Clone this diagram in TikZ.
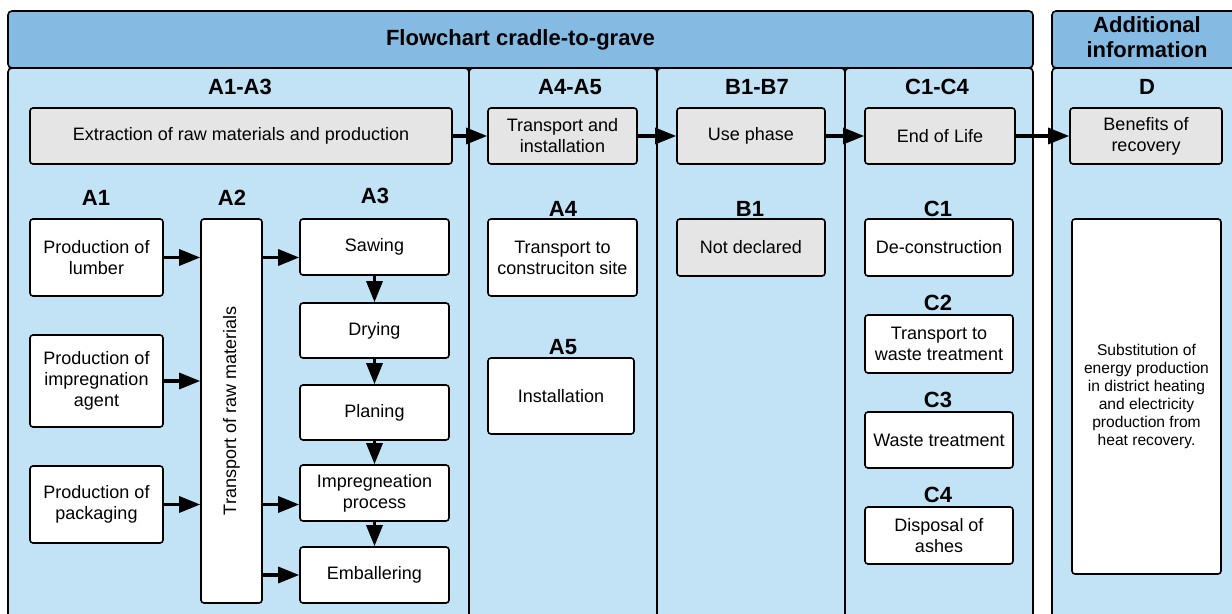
\documentclass[tikz,border=0pt]{standalone}
\usepackage{fontspec}
\setmainfont{Liberation Sans}
\usetikzlibrary{arrows.meta,positioning}

\definecolor{headblue}{RGB}{133,186,227}
\definecolor{panelblue}{RGB}{194,227,246}
\definecolor{boxgrey}{RGB}{229,229,229}

\tikzset{
% Headings and the light blue panels behind the stages
head box/.style={rectangle,draw,line width=0.8pt,fill=headblue,rounded corners=2pt,
  align=center,font=\bfseries\fontsize{11}{12.5}\selectfont},
panel box/.style={draw,line width=0.8pt,fill=panelblue,rounded corners=2pt},
stage/.style={font=\bfseries\fontsize{11}{12.5}\selectfont},
% Two box styles for the processes: white and grey
proc/.style={rectangle,draw,line width=0.8pt,fill=white,rounded corners=1.5pt,
  align=center,inner sep=1pt,font=\fontsize{9}{10.5}\selectfont},
phase/.style={proc,fill=boxgrey},
wh/.style 2 args={minimum width=#1*0.5pt,minimum height=#2*0.5pt},
flow/.style={line width=1.6pt,-{Triangle[length=10.5pt,width=8pt]}}
}

\begin{document}
\begin{tikzpicture}[x=0.5pt,y=-0.5pt]
  \useasboundingbox (0,0) rectangle (1232,614);
  \clip (0,0) rectangle (1232,614);

  % panels
  \draw[panel box] (8,68) rectangle (469,650);
  \draw[panel box] (469,68) rectangle (657,650);
  \draw[panel box] (657,68) rectangle (845,650);
  \draw[panel box] (845,68) rectangle (1033,650);
  \draw[panel box] (1052,68) rectangle (1242,650);

  \node[head box, wh={1025}{57}] (chart) at (520.5,39.5) {Flowchart cradle-to-grave};
  \node[head box, wh={190}{57}] (extra) at (1147,39.5) {};
  \node[font=\bfseries\fontsize{11}{12.5}\selectfont, align=center] (extratxt) at (1147,37.5) {Additional\\information};

  \node[stage] (sA) at (240,87) {A1-A3};
  \node[stage] (sAA) at (570,87) {A4-A5};
  \node[stage] (sB) at (757,87) {B1-B7};
  \node[stage] (sC) at (937,87) {C1-C4};
  \node[stage] (sD) at (1147,87) {D};

  % main stages
  \node[phase, wh={422}{56}] (extr) at (241,136) {Extraction of raw materials and production};
  \node[phase, wh={149}{56}] (trans) at (562.5,136) {Transport and\\installation};
  \node[phase, wh={148}{56}] (use) at (751,136) {Use phase};
  \node[phase, wh={150}{56}] (eol) at (940,136) {End of Life};
  \node[phase, wh={152}{56}] (ben) at (1146,136) {Benefits of\\recovery};

  % A1 - A3
  \node[stage] (sA1) at (96,198) {A1};
  \node[stage] (sA2) at (232,198) {A2};
  \node[stage] (sA3) at (375,196) {A3};
  \node[proc, wh={133}{77}] (lumber) at (96.5,257.5) {Production of\\lumber};
  \node[proc, wh={133}{92}] (agent) at (96.5,381) {Production of\\impregnation\\agent};
  \node[proc, wh={133}{77}] (pack) at (96.5,504.5) {Production of\\packaging};
  \node[proc, wh={61}{384}] (rawtr) at (231.5,411) {};
  \node[rotate=90, font=\fontsize{9}{10.5}\selectfont] (rawtxt) at (rawtr) {Transport of raw materials};
  \node[proc, wh={149}{56}] (saw) at (374.5,247) {Sawing};
  \node[proc, wh={149}{55}] (dry) at (374.5,330.5) {Drying};
  \node[proc, wh={149}{55}] (plan) at (374.5,412.5) {Planing};
  \node[proc, wh={149}{56}] (impr) at (374.5,493) {Impregneation\\process};
  \node[proc, wh={149}{56}] (emb) at (374.5,575) {Emballering};

  % A4 - A5
  \node[stage] (sA4) at (563,209) {A4};
  \node[proc, wh={149}{77}] (site) at (562.5,257.5) {Transport to\\construciton site};
  \node[stage] (sA5) at (563,347) {A5};
  \node[proc, wh={146}{76}] (inst) at (561,396) {Installation};

  % B1
  \node[stage] (sB1) at (750,209) {B1};
  \node[phase, wh={148}{57}] (nodecl) at (751,247.5) {Not declared};

  % C1 - C4
  \node[stage] (sC1) at (938,209) {C1};
  \node[proc, wh={148}{57}] (decon) at (939,247.5) {De-construction};
  \node[stage] (sC2) at (938,303) {C2};
  \node[proc, wh={148}{58}] (wtrans) at (939,344) {Transport to\\waste treatment};
  \node[stage] (sC3) at (938,400) {C3};
  \node[proc, wh={148}{56}] (waste) at (939,440) {Waste treatment};
  \node[stage] (sC4) at (938,495) {C4};
  \node[proc, wh={148}{57}] (ashes) at (939,535.5) {Disposal of\\ashes};

  % D
  \node[proc, wh={149}{355}, font=\fontsize{7.8}{9}\selectfont] (subst) at (1146.5,396.5)
    {Substitution of\\energy production\\in district heating\\and electricity\\production from\\heat recovery.};

  % arrows
  \draw[flow] (extr) -- (trans);
  \draw[flow] (trans) -- (use);
  \draw[flow] (use) -- (eol);
  \draw[flow] (eol) -- (ben);

  \draw[flow] (lumber.east) -- (lumber.east -| rawtr.west);
  \draw[flow] (agent.east) -- (agent.east -| rawtr.west);
  \draw[flow] (pack.east) -- (pack.east -| rawtr.west);
  \draw[flow] (rawtr.east |- lumber.east) -- (saw.west |- lumber.east);
  \draw[flow] (rawtr.east |- pack.east) -- (impr.west |- pack.east);
  \draw[flow] (rawtr.east |- emb.west) -- (emb.west);

  \draw[flow] (saw) -- (dry);
  \draw[flow] (dry) -- (plan);
  \draw[flow] (plan) -- (impr);
  \draw[flow] (impr) -- (emb);
\end{tikzpicture}
\end{document}
